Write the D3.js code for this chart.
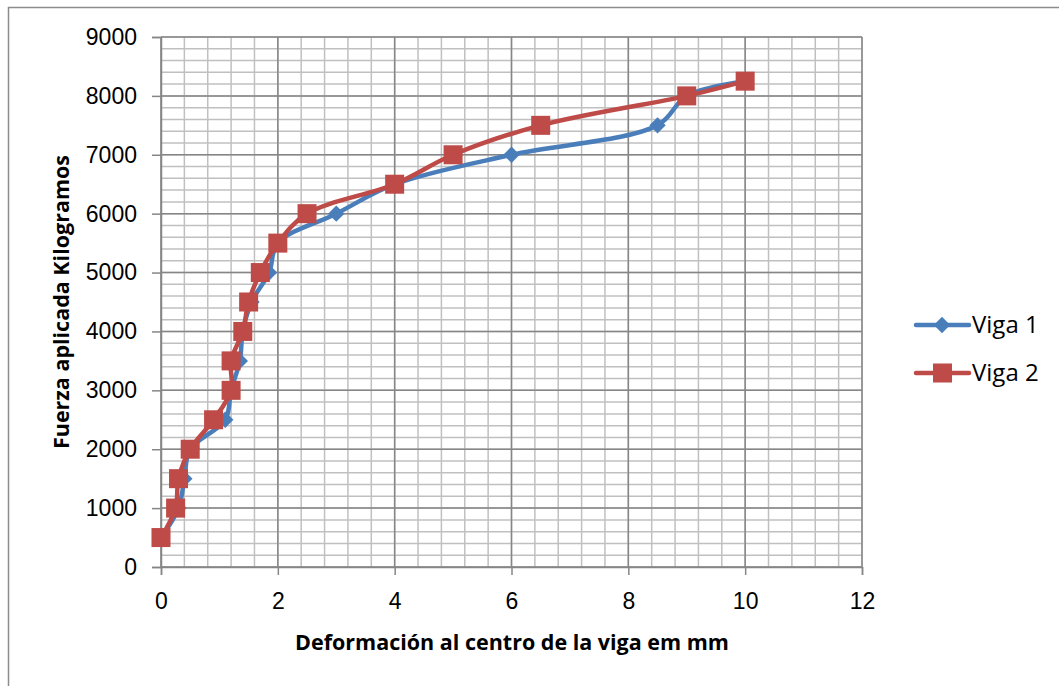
<!DOCTYPE html>
<html>
<head>
<meta charset="utf-8">
<script src="https://cdn.jsdelivr.net/npm/d3@7"></script>
<style>
  body { margin: 0; background: #fff; }
  svg { font-family: "Open Sans", Lato, sans-serif; }
</style>
</head>
<body>
<div id="chart"></div>
<script>
// load in kg, same for both beams
const loads = [500, 1000, 1500, 2000, 2500, 3000, 3500, 4000, 4500, 5000, 5500, 6000, 6500, 7000, 7500, 8000, 8250];
// deflection at mid-span, mm
const viga1 = [0, 0.3, 0.4, 0.5, 1.1, 1.2, 1.35, 1.4, 1.55, 1.85, 2, 3, 4, 6, 8.5, 9, 10];
const viga2 = [0, 0.25, 0.3, 0.5, 0.9, 1.2, 1.2, 1.4, 1.5, 1.7, 2, 2.5, 4, 5, 6.5, 9, 10];
const seriesNames = ["Viga 1", "Viga 2"];
const xTicks = [0, 2, 4, 6, 8, 10, 12];
const yTicks = [0, 1000, 2000, 3000, 4000, 5000, 6000, 7000, 8000, 9000];

const width = 1059, height = 686;
const plotL = 161, plotR = 862, plotT = 37, plotB = 567;

const svg = d3.select("#chart").append("svg")
  .attr("width", width)
  .attr("height", height);

// outer frame of the chart object
svg.append("rect")
  .attr("x", 8.5).attr("y", 7.5)
  .attr("width", 1100).attr("height", 700)
  .attr("fill", "none").attr("stroke", "#8c8c8c").attr("stroke-width", 1.5);

const x = d3.scaleLinear().domain([0, 12]).range([plotL, plotR]);
const y = d3.scaleLinear().domain([0, 9000]).range([plotB, plotT]);

// minor grid
const g = svg.append("g");
g.selectAll(".vmin").data(d3.range(0, 12.001, 0.4))
  .join("line")
  .attr("x1", d => x(d)).attr("x2", d => x(d))
  .attr("y1", plotT).attr("y2", plotB)
  .attr("stroke", "#c0c0c0").attr("stroke-width", 1.5);
g.selectAll(".hmin").data(d3.range(0, 9001, 200))
  .join("line")
  .attr("x1", plotL).attr("x2", plotR)
  .attr("y1", d => y(d)).attr("y2", d => y(d))
  .attr("stroke", "#c0c0c0").attr("stroke-width", 1.5);
// major grid
g.selectAll(".vmaj").data(xTicks)
  .join("line")
  .attr("x1", d => x(d)).attr("x2", d => x(d))
  .attr("y1", plotT).attr("y2", plotB)
  .attr("stroke", "#868686").attr("stroke-width", 1.5);
g.selectAll(".hmaj").data(yTicks)
  .join("line")
  .attr("x1", plotL).attr("x2", plotR)
  .attr("y1", d => y(d)).attr("y2", d => y(d))
  .attr("stroke", "#868686").attr("stroke-width", 1.5);

// axes
const xAxis = svg.append("g")
  .attr("transform", "translate(0," + plotB + ")")
  .call(d3.axisBottom(x).tickValues(xTicks).tickSize(8).tickPadding(18));
const yAxis = svg.append("g")
  .attr("transform", "translate(" + plotL + ",0)")
  .call(d3.axisLeft(y).tickValues(yTicks).tickSize(9).tickPadding(15).tickFormat(d3.format("d")));
[xAxis, yAxis].forEach(a => {
  a.select(".domain").attr("stroke", "#868686").attr("stroke-width", 1.5);
  a.selectAll(".tick line").attr("stroke", "#868686").attr("stroke-width", 1.5);
  a.selectAll("text").attr("fill", "#000").style("font-size", "23px");
});

// titles
svg.append("text")
  .attr("x", 512).attr("y", 650)
  .attr("text-anchor", "middle")
  .style("font-size", "21.5px").style("font-weight", "bold")
  .text("Deformación al centro de la viga em mm");
svg.append("text")
  .attr("transform", "translate(69,302)rotate(-90)")
  .attr("text-anchor", "middle")
  .style("font-size", "21.5px").style("font-weight", "bold")
  .text("Fuerza aplicada Kilogramos");

// series
const colors = ["#4a7ebb", "#be4b48"];
const line = d3.line()
  .x(d => x(d[0])).y(d => y(d[1]))
  .curve(d3.curveCatmullRom.alpha(0.5));

const pts1 = viga1.map((v, i) => [v, loads[i]]);
const pts2 = viga2.map((v, i) => [v, loads[i]]);

svg.append("path").datum(pts1)
  .attr("d", line).attr("fill", "none")
  .attr("stroke", colors[0]).attr("stroke-width", 4.5);
svg.append("g").selectAll("path").data(pts1)
  .join("path")
  .attr("transform", d => "translate(" + x(d[0]) + "," + y(d[1]) + ")")
  .attr("d", d3.symbol(d3.symbolDiamond2, 170))
  .attr("fill", colors[0]);

svg.append("path").datum(pts2)
  .attr("d", line).attr("fill", "none")
  .attr("stroke", colors[1]).attr("stroke-width", 4.5);
svg.append("g").selectAll("rect").data(pts2)
  .join("rect")
  .attr("x", d => x(d[0]) - 9.5).attr("y", d => y(d[1]) - 9.5)
  .attr("width", 19).attr("height", 19)
  .attr("fill", colors[1]);

// legend
const legend = svg.append("g");
seriesNames.forEach((name, i) => {
  const ly = 325 + i * 48;
  legend.append("line")
    .attr("x1", 916).attr("x2", 969).attr("y1", ly).attr("y2", ly)
    .attr("stroke", colors[i]).attr("stroke-width", 4.5).attr("stroke-linecap", "round");
  if (i === 0) {
    legend.append("path")
      .attr("transform", "translate(942," + ly + ")")
      .attr("d", d3.symbol(d3.symbolDiamond2, 170))
      .attr("fill", colors[i]);
  } else {
    legend.append("rect")
      .attr("x", 933).attr("y", ly - 9.5).attr("width", 19).attr("height", 19)
      .attr("fill", colors[i]);
  }
  legend.append("text")
    .attr("x", 972).attr("y", ly + 8)
    .style("font-size", "24px")
    .text(name);
});
</script>
</body>
</html>
